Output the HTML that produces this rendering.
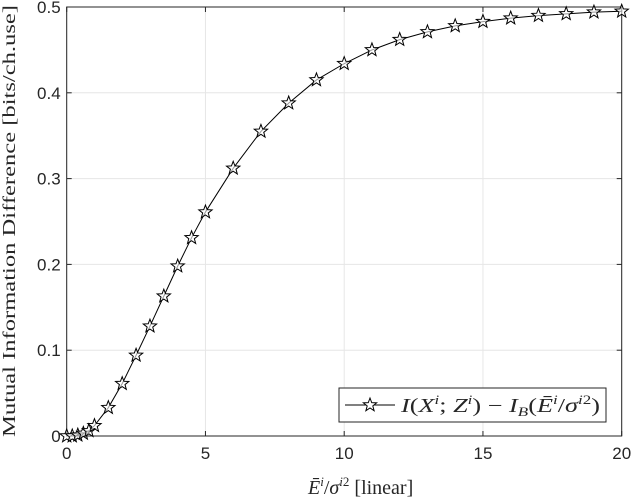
<!DOCTYPE html>
<html><head><meta charset="utf-8"><style>
body{margin:0;background:#fff}
svg{display:block}
text{font-family:"Liberation Serif",serif;fill:#262626}
.tk{font-family:"Liberation Sans",sans-serif;font-size:17px}
</style></head><body>
<svg id="c" width="632" height="502" viewBox="0 0 632 502">
<rect x="66.7" y="7" width="555" height="429" fill="#fff"/>
<g id="grid"></g>
<g id="axes"></g>
<g id="series"></g>
<text x="15" y="221" font-size="18" text-anchor="middle" textLength="432" lengthAdjust="spacingAndGlyphs" transform="rotate(-90 15 221)">Mutual Information Difference [bits/ch.use]</text>
<text x="308" y="494" font-size="20"><tspan font-style="italic">Ē</tspan><tspan font-style="italic" font-size="13" dy="-8">i</tspan><tspan dy="8">/</tspan><tspan font-style="italic">σ</tspan><tspan font-style="italic" font-size="13" dy="-8">i</tspan><tspan font-size="13">2</tspan><tspan dy="8">  [linear]</tspan></text>
<g>
<rect x="339" y="388" width="267" height="34" fill="#fff" stroke="#262626" stroke-width="1"/>
<line x1="345" y1="405" x2="395" y2="405" stroke="#000"/>
<polygon id="lgstar" fill="#fff" stroke="#000" stroke-width="1"/>
<text x="401" y="412" font-size="20" textLength="199" lengthAdjust="spacingAndGlyphs"><tspan font-style="italic">I</tspan>(<tspan font-style="italic">X</tspan><tspan font-size="13" font-style="italic" dy="-8">i</tspan><tspan dy="8">;</tspan> <tspan font-style="italic">Z</tspan><tspan font-size="13" font-style="italic" dy="-8">i</tspan><tspan dy="8">) − </tspan><tspan font-style="italic">I</tspan><tspan font-size="13" font-style="italic" dy="4">B</tspan><tspan dy="-4">(</tspan><tspan font-style="italic">Ē</tspan><tspan font-size="13" font-style="italic" dy="-8">i</tspan><tspan dy="8">/</tspan><tspan font-style="italic">σ</tspan><tspan font-size="13" font-style="italic" dy="-8">i</tspan><tspan font-size="13">2</tspan><tspan dy="8">)</tspan></text>
</g>
</svg>
<script>
const xValues=[0,0.2,0.4,0.6,0.8,1,1.5,2,2.5,3,3.5,4,4.5,5,6,7,8,9,10,11,12,13,14,15,16,17,18,19,20];
const yValues=[0,0,0.001,0.003,0.006,0.012,0.033,0.061,0.094,0.128,0.163,0.198,0.231,0.261,0.312,0.355,0.388,0.415,0.434,0.45,0.462,0.471,0.478,0.483,0.487,0.49,0.492,0.494,0.495];
const xTicks=[0,5,10,15,20];
const yTicks=[0,0.1,0.2,0.3,0.4,0.5];
const X0=66.7,X1=621.7,Y0=436,Y1=7;
const sx=v=>X0+(v-0)/(20-0)*(X1-X0);
const sy=v=>Y0-(v-0)/(0.5-0)*(Y0-Y1);
const NS='http://www.w3.org/2000/svg';
function mk(t,a,p){const e=document.createElementNS(NS,t);for(const k in a)e.setAttribute(k,a[k]);p.appendChild(e);return e;}
const grid=document.getElementById('grid'),axes=document.getElementById('axes'),ser=document.getElementById('series');
xTicks.forEach(t=>{
 const g=mk('line',{x1:sx(t),x2:sx(t),y1:Y0,y2:Y1,stroke:'#e6e6e6'},grid);
 
 
 mk('line',{x1:sx(t),x2:sx(t),y1:Y0,y2:Y0-5,stroke:'#262626'},axes);
 mk('line',{x1:sx(t),x2:sx(t),y1:Y1,y2:Y1+5,stroke:'#262626'},axes);
 const l=mk('text',{x:sx(t),y:Y0+23,'text-anchor':'middle',class:'tk'},axes);
 l.textContent=t;
 
 
});
yTicks.forEach(t=>{
 const g=mk('line',{x1:X0,x2:X1,y1:sy(t),y2:sy(t),stroke:'#e6e6e6'},grid);
 
 
 mk('line',{x1:X0,x2:X0+5,y1:sy(t),y2:sy(t),stroke:'#262626'},axes);
 mk('line',{x1:X1,x2:X1-5,y1:sy(t),y2:sy(t),stroke:'#262626'},axes);
 const l=mk('text',{x:X0-6,y:sy(t)+6,'text-anchor':'end',class:'tk'},axes);
 l.textContent=t;
 
 
});
const box=mk('rect',{x:X0,y:Y1,width:X1-X0,height:Y0-Y1,fill:'none',stroke:'#262626','stroke-width':1},axes);


function star(cx,cy,r){let p=[];for(let i=0;i<10;i++){const a=-Math.PI/2+i*Math.PI/5,rr=i%2?r*0.42:r;p.push((cx+rr*Math.cos(a)).toFixed(2)+','+(cy+rr*Math.sin(a)).toFixed(2));}return p.join(' ');}
const line=mk('polyline',{points:xValues.map((x,i)=>sx(x)+','+sy(yValues[i])).join(' '),fill:'none',stroke:'#000','stroke-width':1},ser);


xValues.forEach((x,i)=>{
 const s=mk('polygon',{points:star(sx(x),sy(yValues[i]),7),fill:'#fff','fill-opacity':0.6,stroke:'#000','stroke-width':1},ser);
 
 
});
document.getElementById('lgstar').setAttribute('points',star(370,405,7));
</script>
</body></html>
